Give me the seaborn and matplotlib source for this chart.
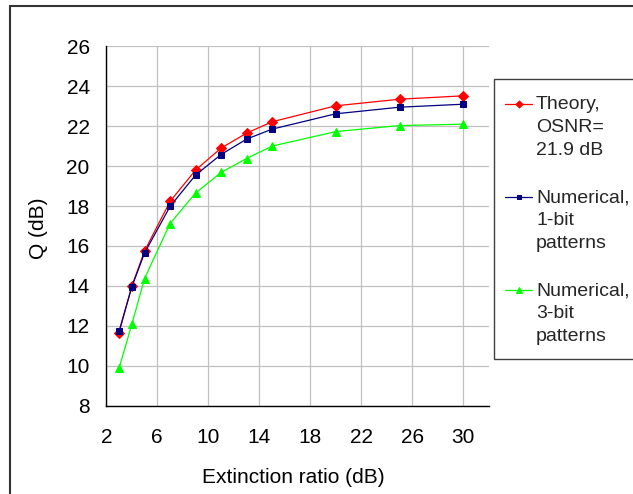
import numpy as np
import pandas as pd
import matplotlib
matplotlib.use("Agg")
import matplotlib.pyplot as plt
import seaborn as sns
from matplotlib.ticker import MultipleLocator
from matplotlib.patches import Rectangle

# ---- data ----
extinction = [3, 4, 5, 7, 9, 11, 13, 15, 20, 25, 30]
q_theory = [11.65, 13.98, 15.75, 18.23, 19.80, 20.90, 21.65, 22.22, 23.02, 23.35, 23.52]
q_1bit = [11.73, 13.95, 15.65, 17.98, 19.55, 20.58, 21.35, 21.85, 22.62, 22.95, 23.10]
q_3bit = [9.88, 12.07, 14.37, 17.12, 18.65, 19.68, 20.38, 21.00, 21.73, 22.03, 22.10]
series_labels = ["Theory,\nOSNR=\n21.9 dB", "Numerical,\n1-bit\npatterns", "Numerical,\n3-bit\npatterns"]
x_ticks = [2, 6, 10, 14, 18, 22, 26, 30]
y_ticks = [8, 10, 12, 14, 16, 18, 20, 22, 24, 26]

sns.set_style("white")
plt.rcParams["font.family"] = ["Liberation Sans", "DejaVu Sans"]
FS = 15
LFS = 14

fig = plt.figure(figsize=(6.33, 4.94), dpi=100)
W, H = 633, 494
ax_l, ax_r, ax_t, ax_b = 106.3, 488.8, 46.3, 405.7
ax = fig.add_axes([ax_l / W, 1 - ax_b / H, (ax_r - ax_l) / W, (ax_b - ax_t) / H])

styles = [
    dict(color="#FF0000", marker="D", markersize=4.8),
    dict(color="#000080", marker="s", markersize=4.8),
    dict(color="#00FF00", marker="^", markersize=5.8),
]
for ys, lab, st in zip([q_theory, q_1bit, q_3bit], series_labels, styles):
    df = pd.DataFrame({"x": extinction, "y": ys})
    sns.lineplot(data=df, x="x", y="y", ax=ax, color=st["color"], marker=st["marker"],
                 markersize=st["markersize"], markeredgecolor=st["color"],
                 linewidth=0.9, label=lab, legend=False, zorder=3)

ax.set_xlim(2, 32)
ax.set_ylim(8, 26)
ax.set_xticks(x_ticks)
ax.set_yticks(y_ticks)
ax.xaxis.set_minor_locator(MultipleLocator(1))
ax.yaxis.set_minor_locator(MultipleLocator(1))
ax.grid(True, which="major", color="#c0c0c0", linewidth=0.9, zorder=0)
ax.set_axisbelow(True)
for s in ["top", "right"]:
    ax.spines[s].set_visible(False)
for s in ["left", "bottom"]:
    ax.spines[s].set_color("black")
    ax.spines[s].set_linewidth(1.0)
ax.tick_params(which="major", direction="inout", length=9, width=1.0, color="black",
               labelsize=FS, labelcolor="black")
ax.tick_params(which="minor", direction="out", length=3.6, width=0.9, color="black")
ax.tick_params(axis="y", which="major", pad=7.5)
ax.tick_params(axis="x", which="major", pad=11.5)

ax.set_xlabel("Extinction ratio (dB)", fontsize=FS, color="black")
ax.set_ylabel("Q (dB)", fontsize=FS, color="black")
ax.xaxis.set_label_coords(0.49, -0.172)
ax.yaxis.set_label_coords(-0.152, 0.494)

handles, labels = ax.get_legend_handles_labels()
leg = fig.legend(handles, labels, loc="upper left", bbox_to_anchor=(505 / W, 1 - 96 / H),
                 bbox_transform=fig.transFigure, frameon=False,
                 borderaxespad=0, borderpad=0, handlelength=1.4, handletextpad=0.2,
                 labelspacing=1.56, fontsize=LFS, handleheight=1.0, markerscale=0.75)
for t in leg.get_texts():
    t.set_linespacing(1.45)
for col in leg._legend_handle_box.get_children():
    for row in col.get_children():
        row.align = "top"

# legend frame
fig.add_artist(Rectangle((494 / W, 1 - 359 / H), 0.5, (359 - 79) / H, transform=fig.transFigure,
                         fill=True, facecolor="white", edgecolor="#404040", linewidth=1.0,
                         zorder=1))
leg.set_zorder(2)

# figure border
fig.add_artist(Rectangle((9.5 / W, -0.2), 1.2, 1.2 - 6.5 / H, transform=fig.transFigure,
                         fill=False, edgecolor="#333333", linewidth=1.5))

fig.savefig("out.png", dpi=100)
